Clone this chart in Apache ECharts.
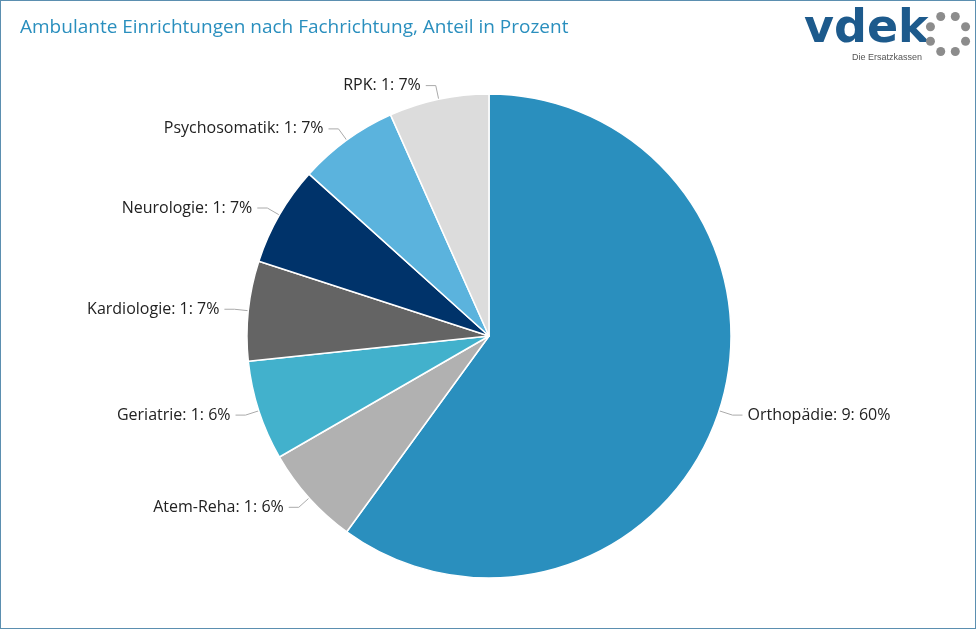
<!DOCTYPE html>
<html><head><meta charset="utf-8">
<script src="https://cdn.jsdelivr.net/npm/echarts@6/dist/echarts.min.js"></script>
<style>html,body{margin:0;padding:0;background:#fff}#c{width:976px;height:629px;box-sizing:border-box;border:1px solid #5b8fb0}</style>
</head><body><div id="c"></div>
<script>
const categories=["Orthopädie","Atem-Reha","Geriatrie","Kardiologie","Neurologie","Psychosomatik","RPK"];
const values=[9,1,1,1,1,1,1];
const percentLabels=[60,6,6,7,7,7,7];
const colors=["#2a8fbe","#b1b1b1","#42b1cc","#646464","#00336a","#5bb3dd","#dcdcdc"];
const chart=echarts.init(document.getElementById('c'));
const dots=[];
for(let i=0;i<8;i++){const a=i*Math.PI/4+Math.PI/8;dots.push({type:'circle',shape:{cx:947+19*Math.cos(a),cy:33+19*Math.sin(a),r:4.5},style:{fill:'#8c8c8c'}});}
chart.setOption({
 title:{text:'Ambulante Einrichtungen nach Fachrichtung, Anteil in Prozent',left:14,top:12,textStyle:{color:'#2a8fbe',fontSize:19,fontWeight:'normal',fontFamily:'Open Sans'}},
 graphic:[{type:'text',left:803,top:6,style:{text:'vdek',fill:'#1d5a8c',font:'bold 46px "DejaVu Sans"'}},
  {type:'text',left:851,top:52,style:{text:'Die Ersatzkassen',fill:'#555',font:'9px "Liberation Sans"'}}].concat(dots),
 series:[{type:'pie',center:[488,335],radius:[0,242],startAngle:90,clockwise:true,
  itemStyle:{borderColor:'#fff',borderWidth:1.5},
  label:{color:'#222',fontSize:16,fontFamily:'Open Sans',formatter:p=>p.name+': '+p.value+': '.slice(0,0)+percentLabels[p.dataIndex]+'%'},
  labelLine:{length:14,length2:10,lineStyle:{color:'#aaa'}},
  data:categories.map((n,i)=>({name:n,value:values[i],itemStyle:{color:colors[i]}}))}]
});
chart.setOption({series:[{label:{formatter:p=>p.name+': '+p.value+': '+percentLabels[p.dataIndex]+'%'}}]});
</script></body></html>
